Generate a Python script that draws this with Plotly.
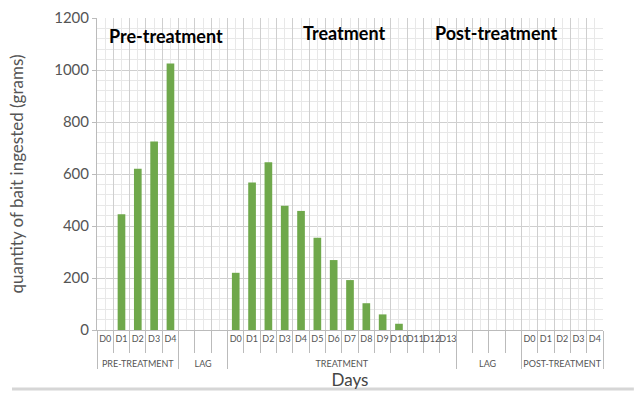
import plotly.graph_objects as go

# ---- data ----
phases = ["PRE-TREATMENT"] * 5 + ["LAG"] * 3 + ["TREATMENT"] * 14 + ["LAG "] * 4 + ["POST-TREATMENT"] * 5
days = (["D0", "D1", "D2", "D3", "D4"]
        + [" ", "  ", "   "]
        + ["D0", "D1", "D2", "D3", "D4", "D5", "D6", "D7", "D8", "D9", "D10", "D11", "D12", "D13"]
        + [" ", "  ", "   ", "    "]
        + ["D0", "D1", "D2", "D3", "D4"])
bait_grams = ([0, 445, 620, 725, 1025]
              + [None, None, None]
              + [220, 567, 645, 478, 458, 355, 269, 192, 103, 60, 24, 0, 0, 0]
              + [None, None, None, None]
              + [None, None, None, None, None])
section_titles = ["Pre-treatment", "Treatment", "Post-treatment"]

GREEN = "#6fa84b"
GRID = "#cfcfcf"
MINOR = "#e8e8e8"
TXT = "#555555"

# day labels get an extra blank line so the phase row sits lower, as in the reference
day_labels = [d + "<br>\u00a0" for d in days]

fig = go.Figure()
fig.add_trace(go.Bar(x=[phases, day_labels], y=bait_grams, marker=dict(color=GREEN, line=dict(width=0)),
                     showlegend=False))
# invisible helper trace on a linear overlay axis for the faint in-between grid lines
fig.add_trace(go.Scatter(x=[0, len(days) - 1], y=[None, None], xaxis="x2", showlegend=False,
                         hoverinfo="skip"))

fig.update_layout(
    width=641, height=393,
    margin=dict(l=97, r=38, t=18, b=63),
    paper_bgcolor="white", plot_bgcolor="white",
    bargap=0.53,
    font=dict(family="Lato, DejaVu Sans, sans-serif", color=TXT),
    xaxis=dict(
        type="multicategory",
        tickson="boundaries", ticks="outside", ticklen=22, tickcolor="#bbbbbb",
        tickangle=0,
        showgrid=True, gridcolor=GRID, gridwidth=1,
        showline=True, linecolor="#bbbbbb",
        showdividers=True, dividercolor="#bbbbbb", dividerwidth=1,
        tickfont=dict(size=9, color=TXT),
        title=dict(text="Days", font=dict(size=17, color="#444444"), standoff=6),
        automargin=False,
    ),
    xaxis2=dict(
        overlaying="x", type="linear", range=[-0.5, len(days) - 0.5],
        tick0=0, dtick=1, showgrid=True, gridcolor=MINOR, gridwidth=1,
        showticklabels=False, zeroline=False, showline=False, ticks="",
    ),
    yaxis=dict(
        range=[0, 1200], dtick=200, tick0=0,
        showgrid=True, gridcolor=GRID, gridwidth=1,
        minor=dict(dtick=40, showgrid=True, gridcolor=MINOR, ticks=""),
        ticks="outside", ticklen=4, tickcolor="#bbbbbb",
        showline=True, linecolor="#bbbbbb",
        zeroline=False,
        tickfont=dict(size=15, color=TXT),
        title=dict(text="quantity of bait ingested (grams)", font=dict(size=17, color=TXT), standoff=26),
        automargin=False,
    ),
)

title_pos = [(0.136, 0.942), (0.488, 0.952), (0.79, 0.952)]
for t, (px, py) in zip(section_titles, title_pos):
    fig.add_annotation(text="<b>" + t + "</b>", x=px, y=py, xref="paper", yref="paper",
                       showarrow=False, font=dict(size=18, color="black", family="Lato, DejaVu Sans, sans-serif"),
                       xanchor="center", yanchor="middle")

fig.add_shape(type="line", xref="paper", yref="paper", x0=-0.168, x1=1.061, y0=-0.189, y1=-0.189,
              line=dict(color="#d6d6d6", width=3))

fig.write_html("out.html", config={"displayModeBar": False},
               post_script="document.body.style.margin='0';document.body.style.overflow='hidden';")
